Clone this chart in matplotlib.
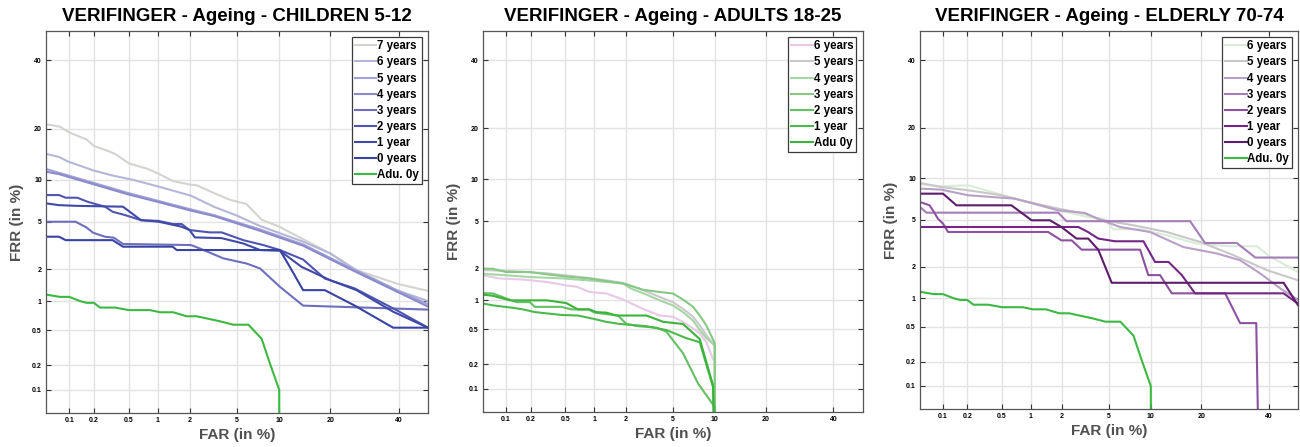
import numpy as np
import matplotlib
matplotlib.use("Agg")
import matplotlib.pyplot as plt
from statistics import NormalDist

plt.rcParams['font.family'] = ['Liberation Sans', 'DejaVu Sans']

# DET axes ticks (percent)
ticks = [0.1, 0.2, 0.5, 1, 2, 5, 10, 20, 40]
tick_labels = ['0.1', '0.2', '0.5', '1', '2', '5', '10', '20', '40']

# ---- shared adult reference curve ----
adu_far = [0.05, 0.076, 0.1, 0.136, 0.164, 0.2, 0.236, 0.35, 0.5, 0.83, 1.05, 1.41, 1.88, 2.31, 3.66, 4.67, 6.1, 7.6, 8.66, 10.0, 10.0]
adu_frr = [1.16, 1.10, 1.10, 1.0, 0.96, 0.96, 0.86, 0.86, 0.81, 0.81, 0.77, 0.77, 0.70, 0.70, 0.62, 0.57, 0.57, 0.40, 0.21, 0.10, 0.01]

# ---- children 5-12 ----
ch7_far = [0.05, 0.076, 0.1, 0.164, 0.2, 0.28, 0.35, 0.5, 0.77, 1.0, 1.41, 2.0, 2.31, 3.3, 4.4, 5.9, 7.6, 10, 13.8, 20, 26.9, 40, 50]
ch7_frr = [21.1, 20.5, 19.1, 17.5, 16.1, 15.2, 14.5, 12.7, 11.8, 11.0, 9.8, 9.3, 9.2, 8.1, 7.3, 6.8, 5.2, 4.6, 3.7, 2.77, 1.97, 1.46, 1.26]
ch6_far = [0.05, 0.074, 0.098, 0.196, 0.32, 0.55, 1.02, 2.06, 3.26, 4.96, 7.4, 14.1, 20, 26.0, 39.3, 50]
ch6_frr = [14.5, 13.9, 13.0, 11.5, 10.7, 10.0, 9.0, 7.8, 6.5, 5.6, 4.65, 3.48, 2.77, 2.04, 1.28, 1.0]
ch5_far = [0.05, 0.074, 0.196, 0.478, 1.02, 2.06, 3.26, 7.4, 14.1, 26.0, 39.3, 50]
ch5_frr = [11.73, 11.1, 9.56, 8.18, 7.15, 6.22, 5.64, 4.37, 3.30, 2.0, 1.28, 0.93]
ch4_far = [0.05, 0.074, 0.196, 0.478, 1.02, 2.06, 3.26, 7.4, 14.1, 26.0, 39.3, 50]
ch4_frr = [11.28, 10.88, 9.36, 8.0, 7.02, 6.09, 5.55, 4.26, 3.22, 1.95, 1.245, 0.88]
ch3_far = [0.05, 0.12, 0.163, 0.196, 0.27, 0.34, 0.43, 2.06, 2.47, 3.89, 5.9, 7.4, 10.1, 14.1, 50]
ch3_frr = [5.02, 5.02, 4.53, 4.11, 3.82, 3.75, 3.33, 3.26, 3.05, 2.51, 2.26, 2.04, 1.38, 0.90, 0.82]
ch2_far = [0.05, 0.074, 0.09, 0.126, 0.168, 0.196, 0.27, 0.33, 0.45, 0.67, 1.0, 1.41, 1.69, 2.0, 3.0, 3.77, 5.58, 7.8, 10.1, 14.1, 18.7, 26.4, 39.3, 50]
ch2_frr = [7.88, 7.88, 7.55, 7.55, 7.07, 6.88, 6.51, 5.97, 5.65, 5.16, 5.10, 4.82, 4.82, 4.32, 4.14, 4.14, 3.58, 3.26, 2.96, 2.45, 1.65, 1.33, 0.81, 0.53]
ch1_far = [0.05, 0.074, 0.126, 0.43, 0.67, 1.02, 1.69, 2.0, 2.23, 3.77, 5.58, 7.4, 10.1, 13.8, 20, 26.9, 38.2, 50]
ch1_frr = [6.88, 6.68, 6.6, 6.51, 5.16, 5.02, 4.59, 4.32, 3.77, 3.72, 3.36, 2.96, 2.92, 2.11, 1.59, 1.28, 0.78, 0.53]
ch0_far = [0.05, 0.074, 0.09, 0.33, 0.43, 1.39, 1.52, 10.1, 11.7, 14.1, 18.7, 26.4, 38.2, 50]
ch0_frr = [3.82, 3.82, 3.58, 3.58, 3.16, 3.16, 2.96, 2.96, 2.11, 1.28, 1.28, 0.90, 0.53, 0.53]

# ---- adults 18-25 ----
ad6_far = [0.05, 0.083, 0.163, 0.31, 0.51, 0.66, 0.90, 1.32, 1.89, 2.85, 3.93, 5.0, 5.97, 7.08, 7.9, 8.77, 9.74]
ad6_frr = [1.74, 1.63, 1.59, 1.51, 1.40, 1.36, 1.21, 1.17, 1.02, 0.82, 0.70, 0.68, 0.60, 0.51, 0.45, 0.36, 0.23]
ad5_far = [0.05, 0.123, 0.31, 0.51, 0.97, 1.89, 2.67, 3.93, 5.0, 5.97, 7.08, 7.9, 8.77, 10.0, 10.0]
ad5_frr = [1.95, 1.90, 1.82, 1.74, 1.63, 1.48, 1.30, 1.08, 0.96, 0.82, 0.68, 0.55, 0.43, 0.33, 0.01]
ad4_far = [0.05, 0.083, 0.196, 0.47, 0.97, 1.89, 2.25, 3.0, 3.93, 5.0, 5.97, 7.08, 7.9, 8.77, 10.0, 10.0]
ad4_frr = [1.80, 1.76, 1.68, 1.63, 1.55, 1.46, 1.30, 1.15, 1.0, 0.89, 0.76, 0.62, 0.49, 0.40, 0.33, 0.01]
ad3_far = [0.05, 0.068, 0.1, 0.196, 0.31, 0.47, 0.87, 1.89, 2.85, 3.93, 5.0, 5.97, 7.08, 7.9, 8.77, 10.0, 10.0]
ad3_frr = [2.01, 2.0, 1.87, 1.87, 1.78, 1.71, 1.63, 1.46, 1.27, 1.21, 1.17, 1.02, 0.86, 0.70, 0.55, 0.35, 0.01]
ad2_far = [0.05, 0.068, 0.096, 0.135, 0.196, 0.225, 0.45, 0.58, 0.87, 1.01, 1.70, 2.03, 2.58, 3.70, 4.45, 5.97, 7.7, 10.0, 10.0]
ad2_frr = [1.18, 1.17, 1.06, 0.96, 0.96, 0.86, 0.86, 0.81, 0.81, 0.75, 0.70, 0.57, 0.54, 0.52, 0.47, 0.27, 0.116, 0.058, 0.01]
ad1_far = [0.05, 0.068, 0.123, 0.163, 0.225, 0.45, 0.68, 0.90, 1.32, 1.76, 3.05, 4.45, 6.3, 7.9, 9.74, 10.0]
ad1_frr = [0.93, 0.89, 0.84, 0.81, 0.76, 0.71, 0.70, 0.66, 0.60, 0.57, 0.54, 0.49, 0.40, 0.36, 0.105, 0.01]
ad0_far = [0.05, 0.068, 0.112, 0.31, 0.51, 0.68, 0.90, 1.05, 1.32, 1.64, 3.05, 4.2, 5.97, 7.9, 9.74, 10.0]
ad0_frr = [1.14, 1.11, 1.0, 1.0, 0.94, 0.81, 0.81, 0.76, 0.75, 0.70, 0.70, 0.60, 0.57, 0.39, 0.11, 0.01]

# ---- elderly 70-74 ----
el6_far = [0.05, 0.095, 0.204, 0.45, 1.02, 1.84, 3.39, 4.6, 5.39, 8.46, 12.65, 18.9, 27.7, 36.0, 40.4, 50]
el6_frr = [9.09, 8.84, 8.96, 7.84, 6.65, 5.93, 5.27, 5.1, 4.22, 4.22, 3.77, 3.21, 3.05, 3.05, 2.47, 1.80]
el5_far = [0.05, 0.095, 0.204, 0.49, 0.94, 1.84, 3.18, 4.24, 7.58, 12.65, 19.7, 28.7, 39.3, 50]
el5_frr = [9.3, 8.72, 8.28, 7.64, 6.83, 6.11, 5.59, 5.03, 4.54, 4.01, 3.32, 2.55, 1.87, 1.50]
el4_far = [0.05, 0.095, 0.204, 0.49, 0.68, 0.94, 1.84, 3.18, 4.24, 6.06, 9.88, 15.9, 24.0, 30.7, 37.1, 43.9, 50]
el4_frr = [8.50, 8.37, 7.64, 7.34, 7.23, 6.83, 5.93, 5.66, 5.03, 4.40, 4.01, 3.0, 2.64, 2.30, 1.74, 1.25, 0.96]
el3_far = [0.05, 0.061, 1.84, 2.19, 17.39, 20.9, 29.7, 35.5, 50]
el3_frr = [6.28, 5.69, 5.69, 4.89, 4.89, 3.25, 3.25, 2.43, 2.43]
el2_far = [0.05, 0.067, 0.074, 0.086, 0.1, 0.116, 1.48, 1.97, 2.44, 2.98, 8.46, 9.62, 11.48, 13.59, 26.3, 30.7, 35.8, 36.6]
el2_frr = [6.83, 6.46, 5.93, 5.12, 4.68, 4.01, 4.01, 3.42, 3.42, 2.85, 2.85, 1.68, 1.68, 1.12, 1.12, 0.55, 0.55, 0.01]
el1_far = [0.05, 2.79, 3.39, 4.1, 5.56, 8.92, 10.66, 12.98, 15.58, 18.5, 45.0, 50]
el1_frr = [4.40, 4.40, 4.0, 3.54, 3.36, 3.36, 2.22, 2.22, 1.68, 1.12, 1.12, 0.88]
el0_far = [0.05, 0.1, 0.147, 0.63, 1.02, 1.54, 1.97, 2.69, 3.39, 4.10, 5.24, 45.0, 50]
el0_frr = [7.84, 7.84, 6.46, 6.46, 4.97, 4.97, 4.40, 3.54, 3.54, 2.85, 1.42, 1.42, 0.85]

panels = [
    ("VERIFINGER - Ageing - CHILDREN 5-12", [0.0354, 0.0761, 0.2938, 0.8545], [
        ("7 years", ch7_far, ch7_frr, '#d3d3d0'),
        ("6 years", ch6_far, ch6_frr, '#b6b6d8'),
        ("5 years", ch5_far, ch5_frr, '#a2a2d8'),
        ("4 years", ch4_far, ch4_frr, '#8a8acc'),
        ("3 years", ch3_far, ch3_frr, '#6d6fbc'),
        ("2 years", ch2_far, ch2_frr, '#4f56b0'),
        ("1 year", ch1_far, ch1_frr, '#4049a8'),
        ("0 years", ch0_far, ch0_frr, '#3843a3'),
        ("Adu. 0y", adu_far, adu_frr, '#3db843'),
    ]),
    ("VERIFINGER - Ageing - ADULTS 18-25", [0.3715, 0.0783, 0.2921, 0.8523], [
        ("6 years", ad6_far, ad6_frr, '#e9c8e5'),
        ("5 years", ad5_far, ad5_frr, '#c9c9c9'),
        ("4 years", ad4_far, ad4_frr, '#a6d5a6'),
        ("3 years", ad3_far, ad3_frr, '#85c985'),
        ("2 years", ad2_far, ad2_frr, '#63c063'),
        ("1 year", ad1_far, ad1_frr, '#4cb94c'),
        ("Adu 0y", ad0_far, ad0_frr, '#3cb43c'),
    ]),
    ("VERIFINGER - Ageing - ELDERLY 70-74", [0.7077, 0.0850, 0.2908, 0.8456], [
        ("6 years", el6_far, el6_frr, '#d9ecd9'),
        ("5 years", el5_far, el5_frr, '#c8c8c8'),
        ("4 years", el4_far, el4_frr, '#b9a0c6'),
        ("3 years", el3_far, el3_frr, '#a47cb6'),
        ("2 years", el2_far, el2_frr, '#8c52a0'),
        ("1 year", el1_far, el1_frr, '#742785'),
        ("0 years", el0_far, el0_frr, '#5e1c6c'),
        ("Adu. 0y", adu_far, adu_frr, '#3db843'),
    ]),
]

_nd = NormalDist()


def probit(p):
    p = np.clip(np.asarray(p, dtype=float) / 100.0, 1e-7, 1 - 1e-7)
    return np.vectorize(_nd.inv_cdf, otypes=[float])(p)


def unprobit(z):
    return 100.0 * np.vectorize(_nd.cdf, otypes=[float])(np.asarray(z, dtype=float))


fig = plt.figure(figsize=(13, 4.47), dpi=100)

for title, rect, curves in panels:
    ax = fig.add_axes(rect)
    ax.set_xscale('function', functions=(probit, unprobit))
    ax.set_yscale('function', functions=(probit, unprobit))
    for label, far, frr, col in curves:
        ax.plot(far, frr, color=col, lw=1.5, label=label)
    ax.set_xlim(0.05, 50)
    ax.set_ylim(0.05, 50)
    ax.set_xticks(ticks)
    ax.set_xticklabels(tick_labels)
    ax.set_yticks(ticks)
    ax.set_yticklabels(tick_labels)
    ax.grid(True, color='#e3e3e3', lw=1.0)
    ax.set_axisbelow(True)
    ax.tick_params(direction='in', length=3.5, width=0.8, color='#333333',
                   top=True, right=True, labelsize=5, pad=3)
    for t in ax.get_xticklabels() + ax.get_yticklabels():
        t.set_fontweight('bold')
    for s in ax.spines.values():
        s.set_color('#555555')
        s.set_linewidth(0.9)
    ax.set_title(title, fontsize=13.5, fontweight='bold', pad=7)
    ax.set_xlabel("FAR (in %)", fontsize=11, fontweight='bold', color='#505050', labelpad=3)
    ax.set_ylabel("FRR (in %)", fontsize=11, fontweight='bold', color='#505050', labelpad=6)
    leg = ax.legend(loc='upper right', prop={'weight': 'bold', 'size': 8.3},
                    fancybox=False, framealpha=1, edgecolor='#3a3a3a',
                    handlelength=1.9, handletextpad=0.05, labelspacing=0.36,
                    borderpad=0.25, borderaxespad=0.55)
    leg.get_frame().set_linewidth(0.9)

plt.savefig("out.png", dpi=100)
